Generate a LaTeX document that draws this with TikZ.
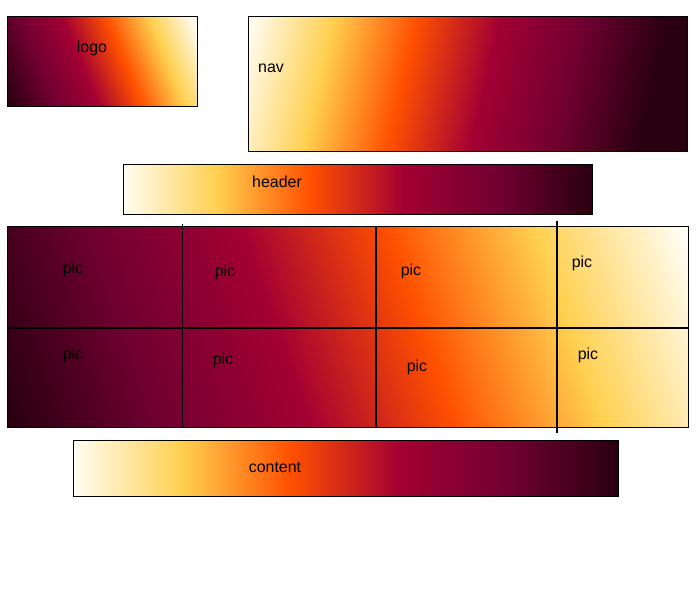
\documentclass[tikz,border=0pt]{standalone}
\usepackage{fontspec}
\setmainfont{Liberation Sans}
\definecolor{hW}{RGB}{255,253,244}
\definecolor{hY}{RGB}{255,208,80}
\definecolor{hO}{RGB}{255,80,0}
\definecolor{hC}{RGB}{163,0,51}
\definecolor{hP}{RGB}{112,0,48}
\definecolor{hD}{RGB}{42,0,16}
% gradient occupies the middle half of the shaded rectangle (37.5bp..62.5bp)
\pgfdeclarehorizontalshading{hotWD}{100bp}{color(0bp)=(hW); color(37.5bp)=(hW); color(42.5bp)=(hY); color(47.5bp)=(hO); color(52.5bp)=(hC); color(57.5bp)=(hP); color(62.5bp)=(hD); color(100bp)=(hD)}
\pgfdeclarehorizontalshading{hotDW}{100bp}{color(0bp)=(hD); color(37.5bp)=(hD); color(42.5bp)=(hP); color(47.5bp)=(hC); color(52.5bp)=(hO); color(57.5bp)=(hY); color(62.5bp)=(hW); color(100bp)=(hW)}
% #1,#2 top-left; #3,#4 bottom-right; #5 tilt angle; #6 shading; #7 span factor; #8 centre shift
\newcommand\hotbox[8]{%
  \begin{scope}
    \clip (#1,#2) rectangle (#3,#4);
    \pgfmathsetmacro\hbcx{(#1+#3)/2+#8}
    \pgfmathsetmacro\hbcy{(#2+#4)/2}
    \pgfmathsetmacro\hbw{(#3-#1)*#7*cos(#5)}
    \begin{scope}[transform canvas={rotate around={#5:(\hbcx,\hbcy)}}]
      \shade[shading=#6] (\hbcx-\hbw,\hbcy-400) rectangle (\hbcx+\hbw,\hbcy+400);
    \end{scope}
  \end{scope}
  \draw[line width=1bp] (#1,#2) rectangle (#3,#4);
}
\begin{document}
\begin{tikzpicture}[x=1bp,y=-1bp,
  lbl/.style={font=\fontsize{16}{19}\selectfont, anchor=base, inner sep=0pt},
  gline/.style={draw=black}]
\useasboundingbox (0,0) rectangle (700,600);
% boxes
\hotbox{7}{17}{197}{107}{22}{hotDW}{1.15}{0}
\hotbox{248}{17}{687}{152}{-12.7}{hotWD}{0.95}{-24}
\hotbox{123}{165}{592}{214}{0}{hotWD}{1}{0}
\hotbox{7}{226}{688}{427}{19}{hotDW}{1.08}{0}
\hotbox{73}{440}{618}{496}{0}{hotWD}{1}{0}
% grid lines
\path[gline, line width=1bp] (182,224) -- (182,427);
\path[gline, line width=1.8bp] (376,226) -- (376,427);
\path[gline, line width=2bp] (557,221) -- (557,433);
\path[gline, line width=2bp] (7,328) -- (688,328);
% labels
\node[lbl] (logo) at (92,53) {logo};
\node[lbl] (nav) at (271,73) {nav};
\node[lbl] (header) at (277,188) {header};
\node[lbl] (content) at (275,472) {content};
\node[lbl] (p11) at (73,273) {pic};
\node[lbl] (p12) at (225,276) {pic};
\node[lbl] (p13) at (411,275) {pic};
\node[lbl] (p14) at (582,267) {pic};
\node[lbl] (p21) at (73,359) {pic};
\node[lbl] (p22) at (223,364) {pic};
\node[lbl] (p23) at (417,371) {pic};
\node[lbl] (p24) at (588,359) {pic};
\end{tikzpicture}
\end{document}
